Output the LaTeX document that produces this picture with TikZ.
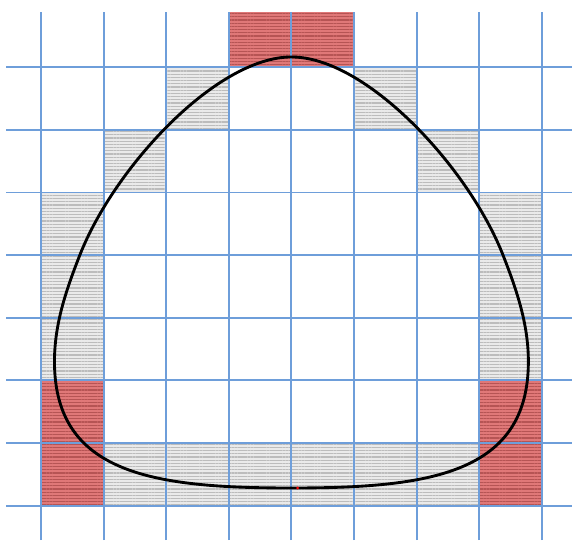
\documentclass[tikz,border=0pt]{standalone}
\usepackage{xcolor}
\definecolor{gridblue}{RGB}{110,158,218}
\definecolor{cellgray}{RGB}{234,234,234}
\definecolor{stripegray}{RGB}{188,188,188}
\definecolor{cellred}{RGB}{224,120,120}
\definecolor{stripered}{RGB}{182,84,84}
\usetikzlibrary{patterns.meta}
\tikzset{
  gridline/.style={draw=gridblue,line width=0.9pt},
  nearcell/.style={fill=cellgray,postaction={pattern={Lines[angle=0,distance=1.45pt,line width=0.55pt]},pattern color=stripegray}},
  hitcell/.style={fill=cellred,postaction={pattern={Lines[angle=0,distance=1.45pt,line width=0.55pt]},pattern color=stripered}},
  outline/.style={draw=black,line width=1.3pt},
}
\begin{document}
\begin{tikzpicture}
\useasboundingbox (-0.655,-0.551) rectangle (8.482,8.075);
% cells crossed by the curve
\foreach \c/\r in {2/6,5/6,1/5,6/5,0/2,0/3,0/4,7/2,7/3,7/4,1/0,2/0,3/0,4/0,5/0,6/0}
  \path[nearcell] (\c,\r) rectangle ++(1,1);
% corner cells
\foreach \c/\r in {0/0,0/1,7/0,7/1}
  \path[hitcell] (\c,\r) rectangle ++(1,1);
\path[hitcell] (3,7) rectangle (5,7.883);
% grid
\foreach \x in {0,...,8}
  \draw[gridline] (\x,-0.551) -- (\x,7.883);
\foreach \y in {0,...,7}
  \draw[gridline] (-0.559,\y) -- (8.482,\y);
% closed curve
\draw[outline] (4,7.165)
  .. controls (5.2,7.165) and (6.8325,5.3965) .. (7.38,4.0)
  .. controls (7.599,3.441) and (7.785,2.9) .. (7.785,2.3)
  .. controls (7.785,0.5) and (6.2,0.28) .. (4,0.28)
  .. controls (1.8,0.28) and (0.215,0.5) .. (0.215,2.3)
  .. controls (0.215,2.9) and (0.401,3.441) .. (0.62,4.0)
  .. controls (1.1675,5.3965) and (2.8,7.165) .. (4,7.165) -- cycle;
\fill[red] (4.1,0.28) circle (0.7pt);
\end{tikzpicture}
\end{document}
